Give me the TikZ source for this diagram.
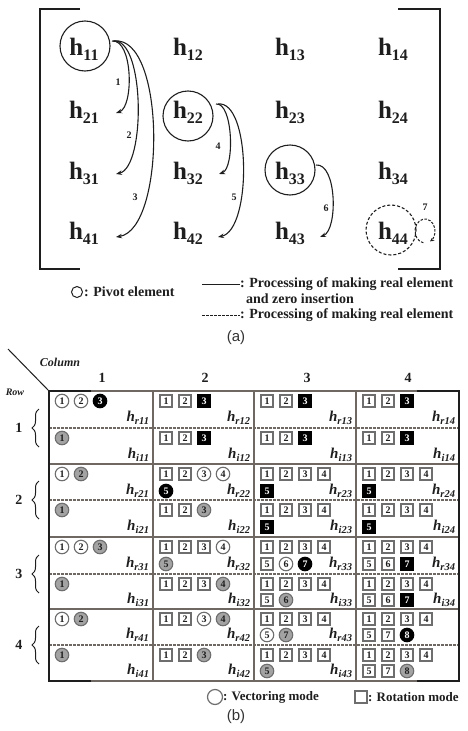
\documentclass[tikz,border=0pt]{standalone}
\usepackage{fontspec}
\setmainfont{Liberation Serif}
\newfontfamily\capfont{Liberation Sans}
\usetikzlibrary{arrows.meta,decorations.pathreplacing}
\definecolor{ink}{HTML}{1E1E1E}
\definecolor{gridc}{HTML}{6F6762}
\definecolor{symc}{HTML}{6E6E6E}
\definecolor{grayfill}{HTML}{A3A3A3}
\definecolor{capc}{HTML}{333333}
\newcommand\hbig[1]{h\raisebox{-0.2em}{\fontsize{16}{16}\selectfont #1}}
\newcommand\hlab[1]{h\raisebox{-0.22em}{\fontsize{10.5}{10.5}\selectfont #1}}
\newcommand\symline[3]{\foreach[count=\k] \t/\n in {#3}{\node[\t] (s-#1-#2-\k) at ({#1+13+(\k-1)*19},#2) {\n};}}
\newcommand\hlabnode[3]{\node[hlb,anchor=east] (l-#3) at (#1-4,#2) {\hlab{#3}};}
\begin{document}
\begin{tikzpicture}[x=1pt,y=-1pt,
  every node/.style={inner sep=0pt,outer sep=0pt,text=ink},
  hb/.style={font=\fontsize{25}{25}\selectfont\bfseries},
  pivot/.style={draw=ink,line width=1.1pt,circle,minimum size=50pt},
  arr/.style={draw=ink,line width=1.1pt,-{Stealth[length=6pt,width=4.5pt]}},
  lnum/.style={font=\fontsize{10}{10}\selectfont\bfseries},
  leg/.style={font=\fontsize{14}{14}\selectfont\bfseries,anchor=west},
  captxt/.style={font=\capfont\fontsize{15}{15}\selectfont,text=capc},
  sym/.style={inner sep=0pt,font=\fontsize{10}{10}\selectfont\bfseries,line width=1.1pt,draw=symc},
  cw/.style={sym,circle,minimum size=13.5pt,fill=white},
  cg/.style={sym,circle,minimum size=13.5pt,fill=grayfill},
  cb/.style={sym,circle,minimum size=13.5pt,fill=black,draw=black,text=white},
  bw/.style={sym,rectangle,minimum size=12pt,fill=white},
  bb/.style={sym,rectangle,minimum size=12pt,fill=black,draw=black,text=white},
  hlb/.style={font=\fontsize{15}{15}\selectfont\bfseries\itshape},
  gline/.style={draw=gridc,line width=1.1pt},
  dline/.style={draw=gridc,line width=1.1pt,dash pattern=on 2.5pt off 1.5pt},
  bline/.style={draw=ink,line width=2.2pt},
  brc/.style={draw=ink,line width=1pt,decorate,decoration={brace,amplitude=7pt}},
  hdr/.style={font=\fontsize{14}{14}\selectfont\bfseries},
  itl/.style={font=\fontsize{12}{12}\selectfont\bfseries\itshape},
]
\useasboundingbox (0,0) rectangle (468,731);
% ---------------- (a)
\draw[bline] (80,9) -- (40,9) -- (40,269) -- (80,269);
\draw[bline] (398,9) -- (440,9) -- (440,269) -- (398,269);
\foreach \r/\y in {1/49,2/112,3/173,4/233}
  \foreach \c/\x in {1/84,2/188,3/290,4/393}
    \node[hb] (h\r\c) at (\x,\y) {\hbig{\r\c}};
\node[pivot] (p11) at (85,46) {};
\node[pivot] (p22) at (188,116) {};
\node[pivot] (p33) at (290,170) {};
\node[pivot,dashed,dash pattern=on 3pt off 2pt] (p44) at (391,230) {};
\coordinate (s1) at (112,41); \coordinate (s2) at (113,41); \coordinate (s3) at (114,41);
\coordinate (e1) at (116,113); \coordinate (e2) at (116,174); \coordinate (e3) at (116,237);
\draw[arr] (s1) .. controls (133,39) and (134,107) .. (e1);
\draw[arr] (s2) .. controls (145,37) and (146,167) .. (e2);
\draw[arr] (s3) .. controls (166,35) and (166,229) .. (e3);
\coordinate (s4) at (216,104); \coordinate (s5) at (218,104); \coordinate (s6) at (316,165);
\coordinate (e4) at (219,174); \coordinate (e5) at (218,237); \coordinate (e6) at (320,237);
\draw[arr] (s4) .. controls (233,102) and (235,168) .. (e4);
\draw[arr] (s5) .. controls (251,100) and (252,230) .. (e5);
\draw[arr] (s6) .. controls (337,163) and (338,230) .. (e6);
\coordinate (s7) at (423.3,242.8);
\draw[draw=ink,line width=1pt,dash pattern=on 2.5pt off 1.5pt,-{Stealth[length=4pt,width=4pt]}]
  (s7) arc[start angle=100,end angle=420,x radius=10,y radius=12];
\node[lnum] (n1) at (118,82) {1};
\node[lnum] (n2) at (129,135) {2};
\node[lnum] (n3) at (135,197) {3};
\node[lnum] (n4) at (218,146) {4};
\node[lnum] (n5) at (234,197) {5};
\node[lnum] (n6) at (326,208) {6};
\node[lnum] (n7) at (425,207) {7};
% legend (a)
\node[draw=ink,line width=1pt,circle,minimum size=11pt] (lcirc) at (77,292) {};
\node[leg] (lt1) at (84,292) {: Pivot element};
\coordinate (la1) at (202,284); \coordinate (la2) at (240,284);
\draw[draw=ink,line width=1pt] (la1) -- (la2);
\node[leg] (lt2) at (240,284) {: Processing of making real element};
\node[leg] (lt3) at (246,299) {and zero insertion};
\coordinate (lb1) at (202,315); \coordinate (lb2) at (240,315);
\draw[draw=ink,line width=1pt,dash pattern=on 2.5pt off 1.5pt] (lb1) -- (lb2);
\node[leg] (lt4) at (240,315) {: Processing of making real element};
\node[captxt] (capa) at (236,338) {(a)};
% ---------------- (b)
\coordinate (dg1) at (8,349); \coordinate (dg2) at (49,391);
\draw[draw=ink,line width=1pt] (dg1) -- (dg2);
\node[itl] (colt) at (60,362) {Column};
\node[itl,font=\fontsize{10}{10}\selectfont\bfseries\itshape] (rowt) at (15,392) {Row};
\foreach \c/\x in {1/102,2/205,3/307,4/408} \node[hdr] (ch\c) at (\x,378) {\c};
\draw[gline] (49,391) rectangle (459,681);
\foreach \y in {464,537,609} \draw[gline] (49,\y) -- (459,\y);
\foreach \x in {153,254,356} \draw[gline] (\x,391) -- (\x,681);
\foreach \y in {428,500,574,645} \draw[dline] (49,\y) -- (459,\y);
\draw[bline,line width=2pt] (91,391) -- (49,391) -- (49,681) -- (91,681);
\draw[bline,line width=2pt] (417,391) -- (459,391) -- (459,681) -- (417,681);
\foreach \r/\y in {1/428,2/500,3/574,4/645} {
  \node[hdr] (rn\r) at (19,\y) {\r};
  \draw[brc] (39,\y+19) -- (39,\y-19);
}
% row 1 upper
\symline{49}{401}{cw/1,cw/2,cb/3}
\symline{153}{401}{bw/1,bw/2,bb/3}
\symline{254}{401}{bw/1,bw/2,bb/3}
\symline{356}{401}{bw/1,bw/2,bb/3}
\hlabnode{153}{418}{r11}\hlabnode{254}{418}{r12}\hlabnode{356}{418}{r13}\hlabnode{459}{418}{r14}
% row 1 lower
\symline{49}{438}{cg/1}
\symline{153}{438}{bw/1,bw/2,bb/3}
\symline{254}{438}{bw/1,bw/2,bb/3}
\symline{356}{438}{bw/1,bw/2,bb/3}
\hlabnode{153}{455}{i11}\hlabnode{254}{455}{i12}\hlabnode{356}{455}{i13}\hlabnode{459}{455}{i14}
% row 2 upper
\symline{49}{474}{cw/1,cg/2}
\symline{153}{474}{bw/1,bw/2,cw/3,cw/4}
\symline{153}{491}{cb/5}
\symline{254}{474}{bw/1,bw/2,bw/3,bw/4}
\symline{254}{491}{bb/5}
\symline{356}{474}{bw/1,bw/2,bw/3,bw/4}
\symline{356}{491}{bb/5}
\hlabnode{153}{491}{r21}\hlabnode{254}{491}{r22}\hlabnode{356}{491}{r23}\hlabnode{459}{491}{r24}
% row 2 lower
\symline{49}{510}{cg/1}
\symline{153}{510}{bw/1,bw/2,cg/3}
\symline{254}{510}{bw/1,bw/2,bw/3,bw/4}
\symline{254}{527}{bb/5}
\symline{356}{510}{bw/1,bw/2,bw/3,bw/4}
\symline{356}{527}{bb/5}
\hlabnode{153}{527}{i21}\hlabnode{254}{527}{i22}\hlabnode{356}{527}{i23}\hlabnode{459}{527}{i24}
% row 3 upper
\symline{49}{547}{cw/1,cw/2,cg/3}
\symline{153}{547}{bw/1,bw/2,bw/3,cw/4}
\symline{153}{564}{cg/5}
\symline{254}{547}{bw/1,bw/2,bw/3,bw/4}
\symline{254}{564}{bw/5,cw/6,cb/7}
\symline{356}{547}{bw/1,bw/2,bw/3,bw/4}
\symline{356}{564}{bw/5,bw/6,bb/7}
\hlabnode{153}{564}{r31}\hlabnode{254}{564}{r32}\hlabnode{356}{564}{r33}\hlabnode{459}{564}{r34}
% row 3 lower
\symline{49}{584}{cg/1}
\symline{153}{584}{bw/1,bw/2,bw/3,cg/4}
\symline{254}{584}{bw/1,bw/2,bw/3,bw/4}
\symline{254}{600}{bw/5,cg/6}
\symline{356}{584}{bw/1,bw/2,bw/3,bw/4}
\symline{356}{600}{bw/5,bw/6,bb/7}
\hlabnode{153}{600}{i31}\hlabnode{254}{600}{i32}\hlabnode{356}{600}{i33}\hlabnode{459}{600}{i34}
% row 4 upper
\symline{49}{619}{cw/1,cg/2}
\symline{153}{619}{bw/1,bw/2,cw/3,cg/4}
\symline{254}{619}{bw/1,bw/2,bw/3,bw/4}
\symline{254}{635}{cw/5,cg/7}
\symline{356}{619}{bw/1,bw/2,bw/3,bw/4}
\symline{356}{635}{bw/5,bw/7,cb/8}
\hlabnode{153}{635}{r41}\hlabnode{254}{635}{r42}\hlabnode{356}{635}{r43}
% row 4 lower
\symline{49}{655}{cg/1}
\symline{153}{655}{bw/1,bw/2,cg/3}
\symline{254}{655}{bw/1,bw/2,bw/3,bw/4}
\symline{254}{671}{cg/5}
\symline{356}{655}{bw/1,bw/2,bw/3,bw/4}
\symline{356}{671}{bw/5,bw/7,cg/8}
\hlabnode{153}{671}{i41}\hlabnode{254}{671}{i42}\hlabnode{356}{671}{i43}
% legend (b)
\node[cw,minimum size=15pt,line width=1.2pt] (vleg) at (215,697) {};
\node[leg,font=\fontsize{13}{13}\selectfont\bfseries] (vt) at (223,697) {: Vectoring mode};
\node[bw,minimum size=12pt,line width=1.2pt] (rleg) at (361,697) {};
\node[leg,font=\fontsize{13}{13}\selectfont\bfseries] (rt) at (368,697) {: Rotation mode};
\node[captxt] (capb) at (236,717) {(b)};
\end{tikzpicture}
\end{document}
